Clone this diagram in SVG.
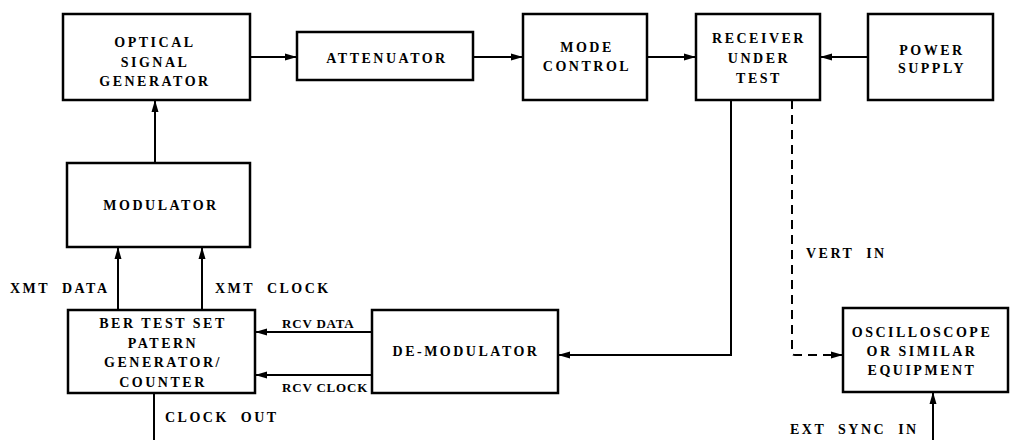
<svg xmlns="http://www.w3.org/2000/svg" width="1013" height="440" viewBox="0 0 1013 440">
<defs>
<marker id="ah" viewBox="0 0 12 8" refX="12" refY="4" markerWidth="12" markerHeight="8" markerUnits="userSpaceOnUse" orient="auto">
<path d="M0,0.5 L12,4 L0,7.5 Z" fill="#000"/>
</marker>
<style>
.box{fill:#fff;stroke:#000;stroke-width:2.5}
.t{font-family:"Liberation Serif","Times New Roman",serif;font-weight:bold;font-size:14px;letter-spacing:2.5px;fill:#000;text-anchor:middle}
.l{font-family:"Liberation Serif","Times New Roman",serif;font-weight:bold;font-size:14px;letter-spacing:2.5px;fill:#000;white-space:pre}
.s{font-size:13px;letter-spacing:0.8px}
.c{fill:none;stroke:#000;stroke-width:2}
.d{stroke-dasharray:9,6}
</style>
</defs>
<rect width="1013" height="440" fill="#fff"/>
<g id="connectors">
<path class="c" d="M250,57 H297" marker-end="url(#ah)"/>
<path class="c" d="M473,57 H523" marker-end="url(#ah)"/>
<path class="c" d="M647,57 H696" marker-end="url(#ah)"/>
<path class="c" d="M868,57 H820" marker-end="url(#ah)"/>
<path class="c" d="M155,163 V100" marker-end="url(#ah)"/>
<path class="c" d="M118,310 V247" marker-end="url(#ah)"/>
<path class="c" d="M202,310 V247" marker-end="url(#ah)"/>
<path class="c" d="M731,100 V355 H558" marker-end="url(#ah)"/>
<path class="c" d="M372,332 H255" marker-end="url(#ah)"/>
<path class="c" d="M372,375 H255" marker-end="url(#ah)"/>
<path class="c" d="M154,393 V440"/>
<path class="c d" d="M792,100 V353 Q792,355 795,355 H843" marker-end="url(#ah)"/>
<path class="c" d="M933,440 V392" marker-end="url(#ah)"/>
<text class="l" x="10" y="293">XMT  DATA</text>
<text class="l" x="215" y="293">XMT  CLOCK</text>
<text class="l s" x="282" y="328">RCV DATA</text>
<text class="l s" x="282" y="392">RCV CLOCK</text>
<text class="l" x="165" y="422">CLOCK  OUT</text>
<text class="l" x="806" y="258">VERT  IN</text>
<text class="l" x="790" y="434">EXT  SYNC  IN</text>
</g>
<g id="osg">
<rect class="box" x="63" y="14" width="187" height="86"/>
<text class="t" x="155" y="47">OPTICAL</text>
<text class="t" x="155" y="67">SIGNAL</text>
<text class="t" x="155" y="86">GENERATOR</text>
</g>
<g id="attenuator">
<rect class="box" x="297" y="32" width="176" height="48"/>
<text class="t" x="387" y="63">ATTENUATOR</text>
</g>
<g id="mode">
<rect class="box" x="523" y="14" width="124" height="86"/>
<text class="t" x="587" y="52">MODE</text>
<text class="t" x="587" y="71">CONTROL</text>
</g>
<g id="receiver">
<rect class="box" x="696" y="14" width="124" height="86"/>
<text class="t" x="759" y="43">RECEIVER</text>
<text class="t" x="759" y="63">UNDER</text>
<text class="t" x="759" y="83">TEST</text>
</g>
<g id="power">
<rect class="box" x="868" y="14" width="125" height="86"/>
<text class="t" x="932" y="55">POWER</text>
<text class="t" x="932" y="73">SUPPLY</text>
</g>
<g id="modulator">
<rect class="box" x="67" y="163" width="183" height="84"/>
<text class="t" x="161" y="210">MODULATOR</text>
</g>
<g id="ber">
<rect class="box" x="68" y="310" width="187" height="83"/>
<text class="t" x="163" y="328">BER TEST SET</text>
<text class="t" x="163" y="348">PATERN</text>
<text class="t" x="163" y="367">GENERATOR/</text>
<text class="t" x="163" y="387">COUNTER</text>
</g>
<g id="demodulator">
<rect class="box" x="372" y="310" width="186" height="83"/>
<text class="t" x="466" y="356">DE-MODULATOR</text>
</g>
<g id="scope">
<rect class="box" x="843" y="308" width="165" height="84"/>
<text class="t" x="922" y="337">OSCILLOSCOPE</text>
<text class="t" x="922" y="356">OR SIMILAR</text>
<text class="t" x="922" y="375">EQUIPMENT</text>
</g>
</svg>
